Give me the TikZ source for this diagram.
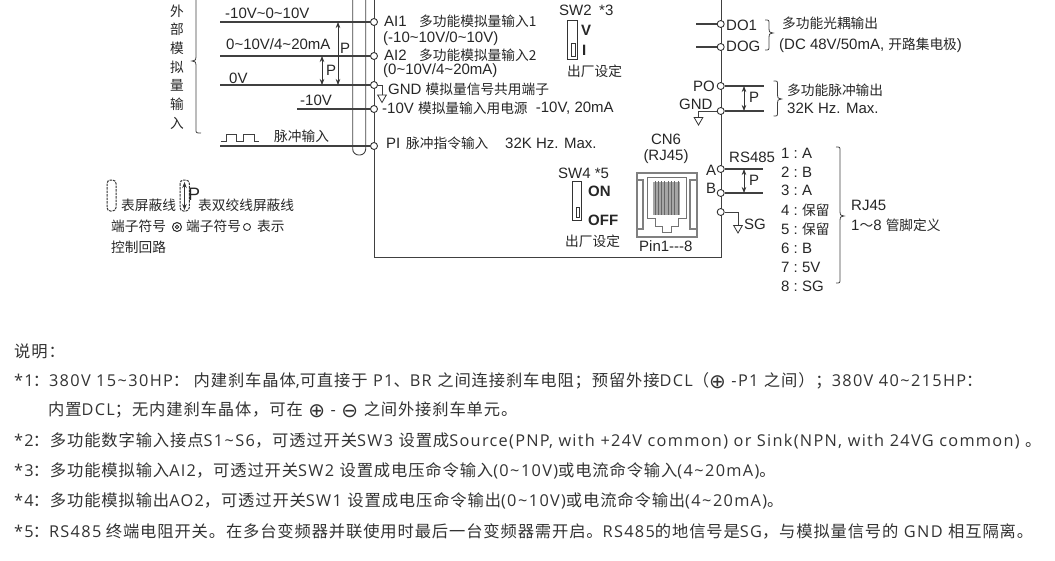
\documentclass[tikz,border=0pt]{standalone}
\usepackage{fontspec}
\usepackage{graphicx}
\setmainfont{Liberation Sans}
\newfontfamily\cjk{Noto Sans CJK SC}
\newfontfamily\cjknote[LetterSpace=5.3]{Noto Sans CJK SC}
\newfontfamily\latnote[LetterSpace=8]{Open Sans}
\newfontfamily\symf{DejaVu Sans}
\newcommand{\zh}[1]{{\fontsize{13.7}{13.7}\selectfont\cjk #1}}
\newcommand{\zn}[1]{{\cjknote #1}}
\newcommand{\tld}{\hspace{1.5pt}\textasciitilde\hspace{1.5pt}}
\newcommand{\circsym}[1]{\raisebox{-1.8pt}{\fontsize{20}{20}\selectfont\symf #1}}
% right brace: x, top y, tip y, bottom y
\newcommand{\pbrace}[4]{\draw[brc] ({#1-4},#2) .. controls (#1,#2) and (#1,#2) .. (#1,{#2+4}) -- (#1,{#3-4})
    .. controls (#1,{#3-1}) .. ({#1+4},#3) .. controls (#1,{#3+1}) .. (#1,{#3+4}) -- (#1,{#4-4})
    .. controls (#1,#4) and (#1,#4) .. ({#1-4},#4);}
\usetikzlibrary{positioning, arrows.meta, shapes.geometric}

\begin{document}
\begin{tikzpicture}[x=1pt, y=-1pt,
    wire/.style={draw=black!75, line width=1.2pt},
    frame/.style={draw=black!75, line width=1pt},
    term/.style={circle, draw=black!80, fill=white, line width=0.9pt, minimum size=7pt, inner sep=0pt},
    gndtri/.style={regular polygon, regular polygon sides=3, shape border rotate=180, draw=black!80, line width=0.8pt, minimum size=10pt, inner sep=0pt},
    txt/.style={anchor=west, inner sep=0pt, text=black!85, font=\fontsize{15}{15}\selectfont},
    boldtxt/.style={txt, font=\fontsize{15}{15}\selectfont\bfseries},
    note/.style={anchor=west, inner sep=0pt, text=black!80, font=\fontsize{16.3}{16.3}\selectfont\latnote},
    brc/.style={draw=black!75, line width=0.8pt},
    pp/.style={{Stealth[length=6pt, width=4.5pt]}-{Stealth[length=6pt, width=4.5pt]}, draw=black!80, line width=0.7pt},
    swbox/.style={draw=black!80, fill=white, line width=0.9pt},
    shield/.style={draw=black!75, line width=0.9pt, rounded corners=6pt},
    pill/.style={draw=black!80, line width=1pt, rounded corners=3.5pt, dash pattern=on 2.5pt off 1pt},
    rjline/.style={draw=black!50, line width=1.8pt}
]
\useasboundingbox (0,0) rectangle (1055,560);

% === Control board frame ===
\draw[frame] (374,0) -- (374,257) -- (721,257) -- (721,0);

% === Shield ===
\draw[shield] (352.7,0) -- (352.7,155) -- (365.7,155) -- (365.7,0);

% === Analog inputs ===
\node[term] (ai1) at (374,22) {};
\node[term] (ai2) at (374,56) {};
\node[term] (gnda) at (374,85) {};
\node[term] (vneg) at (374,109) {};
\node[term] (pi) at (374,146) {};
\coordinate (ai1w) at (220,22);
\coordinate (ai2w) at (220,56);
\coordinate (gndw) at (220,85);
\coordinate (vnegw) at (297,109);
\coordinate (piw) at (220,146);
\draw[wire] (ai1w) -- (ai1);
\draw[wire] (ai2w) -- (ai2);
\draw[wire] (gndw) -- (gnda);
\draw[wire] (vnegw) -- (vneg);
\draw[wire] (piw) -- (pi);
\node[gndtri] (gndtria) at (382,97.5) {};
\draw[frame] (gnda) -| (gndtria.north);

% P arrows on the left
\coordinate (pa1) at (338,22);
\coordinate (pa2) at (338,85);
\coordinate (pb1) at (322,56);
\coordinate (pb2) at (322,85);
\draw[pp] (pa1) -- (pa2);
\draw[pp] (pb1) -- (pb2);
\node[txt] (pal) at (340,48) {P};
\node[txt] (pbl) at (326,70) {P};

\node[txt] (vr1) at (225,13) {-10V\textasciitilde 0\textasciitilde 10V};
\node[txt] (vr2) at (226,44) {0\textasciitilde 10V/4\textasciitilde 20mA};
\node[txt] (vr3) at (229,78) {0V};
\node[txt] (vr4) at (300,100) {-10V};
\node[txt] (pulsel) at (274,136) {\zh{脉冲输入}};
\draw[frame] (220.7,141.7) -- (226.7,141.7) -- (226.7,134.7) -- (236.7,134.7) -- (236.7,141.7)
    -- (243,141.7) -- (243,134.7) -- (254,134.7) -- (254,141.7) -- (258.7,141.7);

% Left brace and its text
\draw[brc] (196,-3) -- (196,57) .. controls (196,60) .. (192,61) .. controls (196,62) .. (196,65)
    -- (196,129) .. controls (196,133) and (196,133) .. (201,133);
\foreach \ch [count=\i] in {外,部,模,拟,量,输,入}
    \node[txt] (ext\i) at (170,{11+18.7*(\i-1)}) {\zh{\ch}};

% === Terminal texts ===
\node[txt] (ai1t) at (384,21) {AI1};
\node[txt] (ai1d) at (419,21) {\zh{多功能模拟量输入1}};
\node[txt] (ai1r) at (383,39) {(-10\textasciitilde 10V/0\textasciitilde 10V)};
\node[txt] (ai2t) at (384,55) {AI2};
\node[txt] (ai2d) at (419,55) {\zh{多功能模拟量输入2}};
\node[txt] (ai2r) at (383,71) {(0\textasciitilde 10V/4\textasciitilde 20mA)};
\node[txt] (gndt) at (388,89) {GND \zh{模拟量信号共用端子}};
\node[txt] (vnegt) at (382,108) {-10V \zh{模拟量输入用电源}};
\node[txt] (vnegr) at (535.7,108) {-10V, 20mA};
\node[txt] (pit) at (386,143) {PI};
\node[txt] (pid) at (406,143) {\zh{脉冲指令输入}};
\node[txt] (pimax) at (505,143) {32K Hz. Max.};

% === SW2 ===
\node[txt] (sw2t) at (559,10) {SW2};
\node[txt] (sw2n) at (599,10) {*3};
\draw[swbox] (567.3,20) rectangle (577.3,59);
\draw[swbox] (571,43) rectangle (575,56);
\node[boldtxt] (sw2v) at (581,30) {V};
\node[boldtxt] (sw2i) at (582,50) {I};
\node[txt] (sw2f) at (567,71) {\zh{出厂设定}};

% === Digital output ===
\node[term] (do1) at (720.7,24) {};
\node[term] (dog) at (720.7,47) {};
\coordinate (do1w) at (696,24);
\coordinate (dogw) at (696,47);
\draw[wire] (do1w) -- (do1);
\draw[wire] (dogw) -- (dog);
\node[txt] (do1t) at (726,25) {DO1};
\node[txt] (dogt) at (726,46) {DOG};
\pbrace{769}{20}{33}{50}
\node[txt] (do1d) at (782,23) {\zh{多功能光耦输出}};
\node[txt] (dogd) at (779,45) {(DC 48V/50mA, \zh{开路集电极})};

% === Pulse output ===
\node[term] (po) at (720.7,86) {};
\node[term] (gndo) at (720.7,111) {};
\coordinate (pow) at (764,86);
\coordinate (gndow) at (764,111);
\draw[wire] (po) -- (pow);
\draw[wire] (gndo) -- (gndow);
\node[gndtri] (gndtrib) at (698.5,120) {};
\draw[frame] (gndo) -| (gndtrib.north);
\coordinate (pc1) at (744,86);
\coordinate (pc2) at (744,111);
\draw[pp] (pc1) -- (pc2);
\node[txt] (pcl) at (749,97) {P};
\node[txt] (pot) at (693,86) {PO};
\node[txt] (gndot) at (679,104) {GND};
\pbrace{777.5}{81}{99}{116}
\node[txt] (pod) at (787,90) {\zh{多功能脉冲输出}};
\node[txt] (pomax) at (787,108) {32K Hz. Max.};

% === RS485 ===
\node[term] (rsa) at (720.7,169) {};
\node[term] (rsb) at (720.7,193) {};
\node[term] (rsg) at (720.7,212) {};
\coordinate (rsaw) at (763,169);
\coordinate (rsbw) at (763,193);
\draw[wire] (rsa) -- (rsaw);
\draw[wire] (rsb) -- (rsbw);
\node[gndtri] (gndtric) at (738,228) {};
\draw[frame] (rsg) -| (gndtric.north);
\coordinate (pd1) at (744,169);
\coordinate (pd2) at (744,193);
\draw[pp] (pd1) -- (pd2);
\node[txt] (pdl) at (749,180) {P};
\node[txt] (rsat) at (706,170) {A};
\node[txt] (rsbt) at (706,188) {B};
\node[txt] (rst) at (729,157) {RS485};
\node[txt] (sgt) at (744,224) {SG};

% === SW4 ===
\node[txt] (sw4t) at (558,173) {SW4 *5};
\draw[swbox] (572.7,181.7) rectangle (581.7,220);
\draw[swbox] (576,207) rectangle (579,217);
\node[boldtxt] (sw4on) at (588,191) {ON};
\node[boldtxt] (sw4off) at (588,220) {OFF};
\node[txt] (sw4f) at (565,241) {\zh{出厂设定}};

% === CN6 socket ===
\node[txt, anchor=center] (cn6t) at (666,139) {CN6};
\node[txt, anchor=center] (cn6r) at (666,157) {(RJ45)};
\draw[rjline] (636.7,172.7) rectangle (696.7,237.3);
\draw[rjline, line width=1.4pt] (637,180) -- (643,180) -- (643,229) -- (637,229);
\draw[rjline, line width=1.4pt] (696,180) -- (690,180) -- (690,229) -- (696,229);
\draw[draw=black!55, line width=1pt] (647,177) -- (686,177) -- (686,218) -- (678,218) -- (678,226)
    -- (671,226) -- (671,232) -- (662,232) -- (662,226) -- (655,226) -- (655,218) -- (647,218) -- cycle;
\fill[black!35] (653,182) rectangle (680,215);
\foreach \k in {0,...,7}
    \draw[draw=black!60, line width=0.9pt] ({655+\k*3.3},181) -- ({655+\k*3.3},215);
\node[txt] (pinl) at (639,246) {Pin1{-}{-}{-}8};

% === RJ45 pins ===
\foreach \y/\v [count=\i] in {153/A,172/B,190/A,210/\zh{保留},229/\zh{保留},248/B,267/5V,286/SG}
    \node[txt] (pin\i) at (781,\y) {\i\ :\ \v};
\pbrace{840}{147}{216}{283}
\node[txt] (rjt) at (851,205) {RJ45};
\node[txt] (rjd) at (851,225) {1\zh{～}8 \zh{管脚定义}};

% === Legend ===
\draw[pill] (107,180) rectangle (116,211);
\draw[pill] (180,180) rectangle (189.3,211);
\coordinate (pe1) at (184.5,182);
\coordinate (pe2) at (184.5,210);
\draw[pp] (pe1) -- (pe2);
\node[txt, font=\fontsize{18}{18}\selectfont] (pel) at (188,194) {P};
\node[txt] (lg1) at (121,205) {\zh{表屏蔽线}};
\node[txt] (lg2) at (198,205) {\zh{表双绞线屏蔽线}};
\node[txt] (lg3) at (111,226) {\zh{端子符号}};
\node[circle, draw=black!85, line width=1pt, minimum size=9pt, inner sep=0pt] (dbl) at (177,227) {};
\node[circle, draw=black!85, line width=1pt, minimum size=3.5pt, inner sep=0pt] (dbli) at (177,227) {};
\node[txt] (lg4) at (186,226) {\zh{端子符号}};
\node[term] (lgc) at (247,227) {};
\node[txt] (lg5) at (257,226) {\zh{表示}};
\node[txt] (lg6) at (111,247) {\zh{控制回路}};

% === Notes ===
\node[note] (n0) at (14,351) {\zn{说明：}};
\node[note] (n1) at (14,381) {*1\zn{\hspace{-1pt}：}380V 15\tld 30HP\zn{： 内建刹车晶体},\zn{可直接于} P1\zn{、}BR \zn{之间连接刹车电阻；预留外接}DCL\zn{（}\circsym{⊕} -P1 \zn{之间）；}380V 40\tld 215HP\zn{：}};
\node[note] (n1b) at (48,410) {\zn{内置}DCL\zn{；无内建刹车晶体，可在} \circsym{⊕} - \circsym{⊖} \zn{之间外接刹车单元。}};
\node[note] (n2) at (14,441) {*2\zn{\hspace{-1pt}：多功能数字输入接点}S1\tld S6\zn{，可透过开关}SW3 \zn{设置成}Source(PNP, with +24V common) or Sink(NPN, with 24VG common) \zn{。}};
\node[note] (n3) at (14,471) {*3\zn{\hspace{-1pt}：多功能模拟输入}AI2\zn{，可透过开关}SW2 \zn{设置成电压命令输入}(0\tld 10V)\zn{或电流命令输入}(4\tld 20mA)\zn{。}};
\node[note] (n4) at (14,501) {*4\zn{\hspace{-1pt}：多功能模拟输出}AO2\zn{，可透过开关}SW1 \zn{设置成电压命令输出}(0\tld 10V)\zn{或电流命令输出}(4\tld 20mA)\zn{。}};
\node[note] (n5) at (14,531) {*5\zn{\hspace{-1pt}：}RS485\hspace{-1pt} \zn{终端电阻开关。在多台变频器并联使用时最后一台变频器需开启。}RS485\zn{的地信号是}SG\zn{，与模拟量信号的} GND \zn{相互隔离。}};

\end{tikzpicture}
\end{document}
